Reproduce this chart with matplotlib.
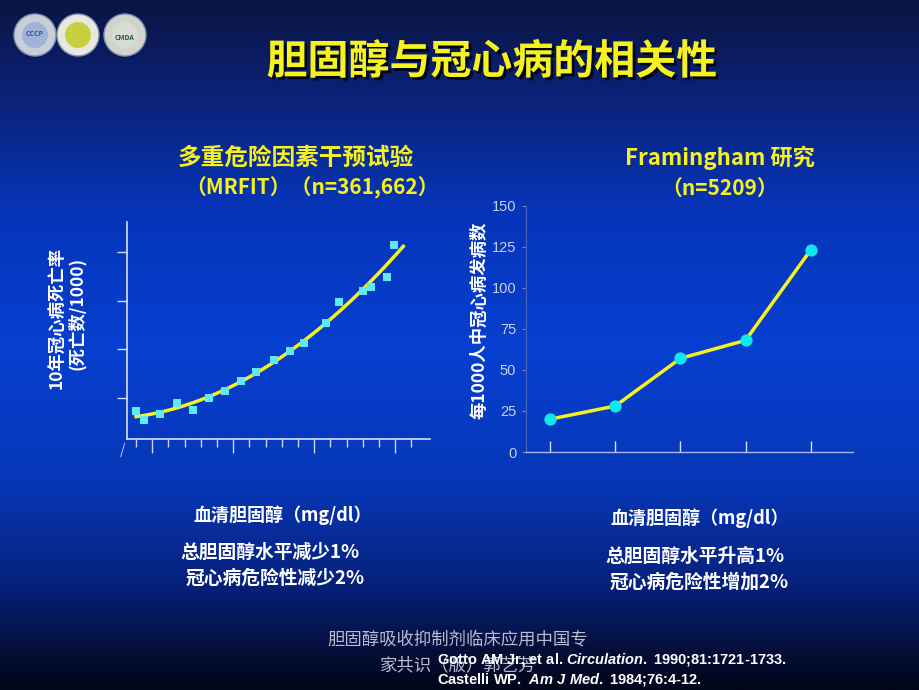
import numpy as np
import matplotlib.pyplot as plt
import matplotlib.patheffects as pe
from matplotlib.colors import LinearSegmentedColormap
from matplotlib.patches import Ellipse

plt.rcParams['font.family'] = ['Noto Sans CJK SC', 'DejaVu Sans']
plt.rcParams['mathtext.fontset'] = 'custom'
plt.rcParams['mathtext.it'] = 'Liberation Sans:bold:italic'
plt.rcParams['mathtext.rm'] = 'Liberation Sans:bold'

# MRFIT: serum cholesterol (mg/dl) vs 10-year CHD death rate (per 1000)
mrfit_chol = [140, 145, 155, 165, 175, 185, 195, 205, 214, 225,
              235, 244, 257, 265, 280, 285, 295, 299]
mrfit_rate = [2.9, 2.2, 2.7, 3.6, 3.0, 4.0, 4.6, 5.4, 6.1, 7.1,
              7.9, 8.5, 10.2, 11.9, 12.8, 13.1, 14.0, 16.6]
mrfit_yticks = [4, 8, 12, 16]

# Framingham: cholesterol groups vs CHD incidence per 1000
fram_group = [1, 2, 3, 4, 5]
fram_rate = [20, 28, 57, 68, 123]
fram_yticks = [0, 25, 50, 75, 100, 125, 150]

YELLOW = '#f6f21e'
CYAN = '#5fe8f5'

fig = plt.figure(figsize=(9.2, 6.9), dpi=100)

# slide background gradient
bg = fig.add_axes([0, 0, 1, 1], zorder=-10)
cmap = LinearSegmentedColormap.from_list('slide', [
    (0.0, '#0a1442'), (0.12, '#0b2070'), (0.3, '#0734b8'), (0.5, '#063fd0'),
    (0.7, '#0737b8'), (0.85, '#06217a'), (0.95, '#040d35'), (1.0, '#02061a')])
bg.imshow(np.linspace(0, 1, 256)[:, None], aspect='auto', cmap=cmap,
          extent=[0, 1, 0, 1], origin='upper')
bg.set_axis_off()

# logos
for cx, ring, inner in [(35, '#c8ced8', '#9fb4d8'), (78, '#e8e8e0', '#c8d040'),
                        (125, '#d0d4cc', '#d8dcd4')]:
    bg.add_patch(Ellipse((cx / 920, 1 - 35 / 690), 42 / 920, 42 / 690,
                         transform=bg.transAxes, facecolor=ring,
                         edgecolor='#8090a8', lw=1))
    bg.add_patch(Ellipse((cx / 920, 1 - 35 / 690), 26 / 920, 26 / 690,
                         transform=bg.transAxes, facecolor=inner, edgecolor='none'))
bg.text(35 / 920, 1 - 33 / 690, 'CCCP', transform=bg.transAxes, ha='center',
        va='center', fontsize=5, color='#3050a0', fontweight='bold')
bg.text(125 / 920, 1 - 38 / 690, 'CMDA', transform=bg.transAxes, ha='center',
        va='center', fontsize=5, color='#206030', fontweight='bold')

# title
fig.text(492 / 920, 1 - 62 / 690, '胆固醇与冠心病的相关性', ha='center', va='center',
         fontsize=29.5, fontweight='bold', color=YELLOW,
         path_effects=[pe.SimplePatchShadow(offset=(2, -2), shadow_rgbFace='black',
                                            alpha=0.8), pe.Normal()])

# subtitles
fig.text(296 / 920, 1 - 158 / 690, '多重危险因素干预试验', ha='center', va='center',
         fontsize=17, fontweight='bold', color=YELLOW)
fig.text(312 / 920, 1 - 188 / 690, '（MRFIT）（n=361,662）', ha='center', va='center',
         fontsize=15, fontweight='bold', color=YELLOW)
fig.text(720 / 920, 1 - 158 / 690, 'Framingham 研究', ha='center', va='center',
         fontsize=16, fontweight='bold', color=YELLOW)
fig.text(720 / 920, 1 - 188 / 690, '（n=5209）', ha='center', va='center',
         fontsize=15, fontweight='bold', color=YELLOW)

# left chart
ax1 = fig.add_axes([127 / 920, 1 - 439 / 690, (430 - 127) / 920, (439 - 222) / 690])
ax1.patch.set_alpha(0)
ax1.scatter(mrfit_chol, mrfit_rate, marker='s', s=30, color=CYAN, zorder=3,
            linewidths=0)
coef = np.polyfit(mrfit_chol, mrfit_rate, 2)
xs = np.linspace(140, 305, 100)
ax1.plot(xs, np.polyval(coef, xs), color=YELLOW, lw=2.5, zorder=2)
ax1.set_xlim(134.4, 321.5)
ax1.set_ylim(0.6, 18.5)
ax1.set_yticks(mrfit_yticks)
ax1.set_yticklabels([])
ax1.set_xticks(np.arange(150, 301, 50))
ax1.set_xticks(np.arange(140, 311, 10), minor=True)
ax1.set_xticklabels([])
ax1.tick_params(axis='y', direction='out', length=7, width=1, color='#d0d8f0', pad=0)
ax1.tick_params(axis='x', which='major', direction='out', length=10, width=1,
                color='#d0d8f0')
ax1.tick_params(axis='x', which='minor', direction='out', length=6, width=1,
                color='#d0d8f0')
for s in ['top', 'right']:
    ax1.spines[s].set_visible(False)
for s in ['left', 'bottom']:
    ax1.spines[s].set_color('#d8e0f4')
    ax1.spines[s].set_linewidth(1.2)
ax1.text(-0.015, -0.05, '/', transform=ax1.transAxes, ha='center', va='center',
         fontsize=10, color='#d0d8f0')
fig.text(57 / 920, 1 - 318 / 690, '10年冠心病死亡率', rotation=90, ha='center',
         va='center', fontsize=12.5, fontweight='bold', color='white')
fig.text(77 / 920, 1 - 313 / 690, '(死亡数/1000)', rotation=90, ha='center',
         va='center', fontsize=12.5, fontweight='bold', color='white')

# right chart
ax2 = fig.add_axes([526 / 920, 1 - 452 / 690, (853 - 526) / 920, (452 - 205.7) / 690])
ax2.patch.set_alpha(0)
ax2.plot(fram_group, fram_rate, color=YELLOW, lw=2.5, zorder=2)
ax2.scatter(fram_group, fram_rate, s=78, color='#10e8f0', zorder=3, linewidths=0)
ax2.set_xlim(0.63, 5.65)
ax2.set_ylim(0, 150)
ax2.set_yticks(fram_yticks)
ax2.set_yticklabels([str(v) for v in fram_yticks], family='Liberation Sans',
                    fontsize=10.5, color='#c8d0ec')
ax2.set_xticks(fram_group)
ax2.set_xticklabels([])
ax2.tick_params(axis='y', direction='out', length=3, width=0.8, color='#6c84cc', pad=4)
ax2.tick_params(axis='x', direction='in', length=8, width=1, color='#d8e0f4', pad=2)
for s in ['top', 'right']:
    ax2.spines[s].set_visible(False)
ax2.spines['left'].set_color('#4c66c0')
ax2.spines['left'].set_linewidth(0.8)
ax2.spines['bottom'].set_color('#a8b8e8')
ax2.spines['bottom'].set_linewidth(1)
fig.text(479 / 920, 1 - 320 / 690, '每1000人中冠心病发病数', rotation=90, ha='center',
         va='center', fontsize=12.5, fontweight='bold', color='white')

# x labels and notes
fig.text(283 / 920, 1 - 515 / 690, '血清胆固醇（mg/dl）', ha='center', va='center',
         fontsize=13, fontweight='bold', color='white')
fig.text(700 / 920, 1 - 518 / 690, '血清胆固醇（mg/dl）', ha='center', va='center',
         fontsize=13, fontweight='bold', color='white')
fig.text(180 / 920, 1 - 552 / 690, '总胆固醇水平减少1%', ha='left', va='center',
         fontsize=13.5, fontweight='bold', color='white')
fig.text(186 / 920, 1 - 578 / 690, '冠心病危险性减少2%', ha='left', va='center',
         fontsize=13.5, fontweight='bold', color='white')
fig.text(605 / 920, 1 - 556 / 690, '总胆固醇水平升高1%', ha='left', va='center',
         fontsize=13.5, fontweight='bold', color='white')
fig.text(610 / 920, 1 - 582 / 690, '冠心病危险性增加2%', ha='left', va='center',
         fontsize=13.5, fontweight='bold', color='white')

# footer
fig.text(327 / 920, 1 - 640 / 690, '胆固醇吸收抑制剂临床应用中国专', ha='left',
         va='center', fontsize=12.5, color='#b8bcd0')
fig.text(380 / 920, 1 - 665 / 690, '家共识（版）郭艺芳', ha='left', va='center',
         fontsize=12.5, color='#b8bcd0')
fig.text(437 / 920, 1 - 659 / 690,
         r'Gotto AM Jr, et al. $\it{Circulation.}$ 1990;81:1721-1733.',
         ha='left', va='center', fontsize=10.5, fontweight='bold', color='white',
         family='Liberation Sans')
fig.text(437 / 920, 1 - 680 / 690,
         r'Castelli WP.  $\it{Am\ J\ Med.}$ 1984;76:4-12.',
         ha='left', va='center', fontsize=10.5, fontweight='bold', color='white',
         family='Liberation Sans')

fig.savefig('out.png', dpi=100)
